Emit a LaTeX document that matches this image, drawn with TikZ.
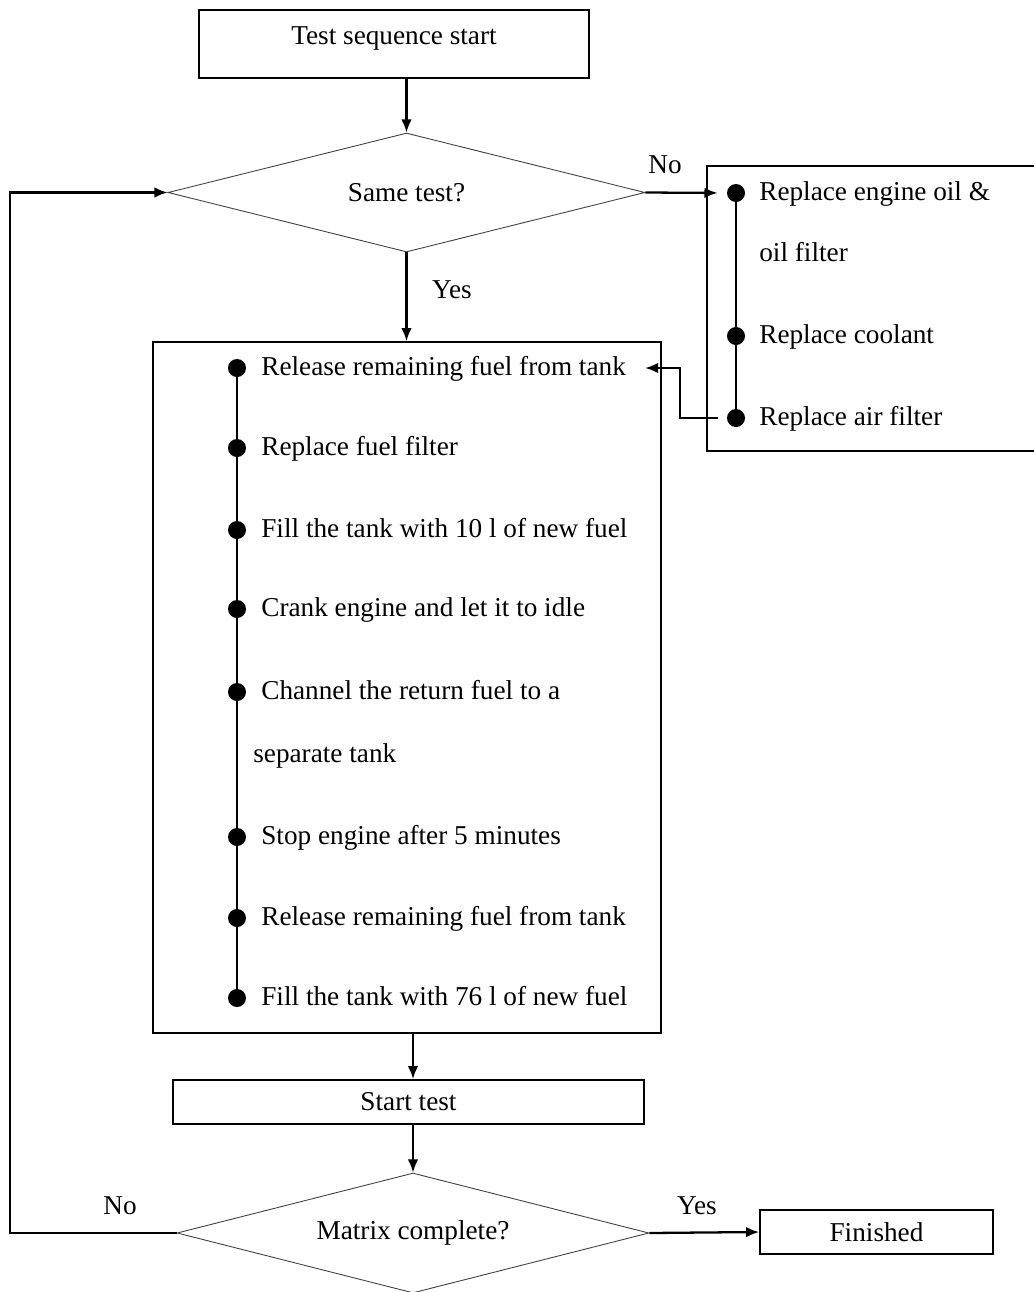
\documentclass[tikz,border=0pt]{standalone}
\usepackage{fontspec}
\setmainfont{Liberation Serif}
\usetikzlibrary{shapes.geometric,arrows.meta,calc}
\begin{document}
\begin{tikzpicture}[x=0.02cm,y=-0.02cm,
  every node/.style={font=\fontsize{15.5pt}{18pt}\selectfont},
  box/.style={draw, line width=0.9pt, inner sep=0pt},
  dec/.style={draw=black!75, line width=0.5pt, shape=diamond, shape aspect=4, inner sep=0pt},
  arr/.style={-{Latex[length=7.5pt,width=6pt]}, line width=1.3pt},
  dot/.style={circle, fill, inner sep=0pt, minimum size=0.36cm},
  item/.style={anchor=west, inner sep=0pt, text height=0.7em, text depth=0.2em},
  lbl/.style={inner sep=0pt},
  vline/.style={line width=0.9pt}]
\useasboundingbox (0,0) rectangle (1034,1292);
\clip (0,0) rectangle (1034,1292);

% top start box
\node[box, minimum width=7.8cm, minimum height=1.36cm, text height=12pt, text depth=12pt] (top) at (394,44) {Test sequence start};

% first decision
\node[dec, minimum width=9.54cm, minimum height=2.38cm] (d1) at (406.5,192.5) {Same test?};

% right maintenance box
\node[box, minimum width=6.76cm, minimum height=5.7cm] (rbox) at (876,308.5) {};
\node[dot] (r1) at (736,193) {};
\node[dot] (r2) at (736,336) {};
\node[dot] (r3) at (736,418) {};
\draw[vline] (r1.center) -- (r3.center);
\node[item] (rt1) at (759,196) {Replace engine oil \&};
\node[item] (rt1b) at (759,257) {oil filter};
\node[item] (rt2) at (759,339) {Replace coolant};
\node[item] (rt3) at (759,421) {Replace air filter};

% main procedure box
\node[box, minimum width=10.16cm, minimum height=13.82cm] (main) at (407,687.5) {};
\node[dot] (m1) at (237,368) {};
\node[dot] (m2) at (237,448) {};
\node[dot] (m3) at (237,530) {};
\node[dot] (m4) at (237,609) {};
\node[dot] (m5) at (237,692) {};
\node[dot] (m6) at (237,837) {};
\node[dot] (m7) at (237,918) {};
\node[dot] (m8) at (237,998) {};
\draw[vline] (m1.center) -- (m8.center);
\node[item] (mt1) at (261,371) {Release remaining fuel from tank};
\node[item] (mt2) at (261,451) {Replace fuel filter};
\node[item] (mt3) at (261,533) {Fill the tank with 10 l of new fuel};
\node[item] (mt4) at (261,612) {Crank engine and let it to idle};
\node[item] (mt5) at (261,695) {Channel the return fuel to a};
\node[item] (mt5b) at (253,758) {separate tank};
\node[item] (mt6) at (261,840) {Stop engine after 5 minutes};
\node[item] (mt7) at (261,921) {Release remaining fuel from tank};
\node[item] (mt8) at (261,1001) {Fill the tank with 76 l of new fuel};

% lower nodes
\node[box, minimum width=9.42cm, minimum height=0.88cm] (start) at (408.5,1102) {Start test};
\node[dec, minimum width=9.44cm, minimum height=2.4cm] (d2) at (413,1233) {Matrix complete?};
\node[box, minimum width=4.66cm, minimum height=0.88cm] (fin) at (876.5,1232) {Finished};

% labels
\node[lbl] (lno1) at (665,165) {No};
\node[lbl] (lyes1) at (452,290) {Yes};
\node[lbl] (lno2) at (120,1206) {No};
\node[lbl] (lyes2) at (697,1206) {Yes};

% connectors
\draw[arr] (d1.north |- top.south) -- (d1.north);
\draw[arr, shorten >=0.18cm] (d1.east) -- (r1.west);
\draw[arr] (d1.south) -- (d1.south |- main.north);
\coordinate (j1) at (680,418);
\coordinate (j2) at (680,368);
\coordinate (j3) at (645,368);
\draw[arr, shorten <=0.18cm] (r3.west) -- (j1) -- (j2) -- (j3);
\draw[arr] (main.south -| d2.north) -- (start.north -| d2.north);
\draw[arr] (start.south -| d2.north) -- (d2.north);
\draw[arr] (d2.east) -- (fin.west);
\coordinate (lb) at (10,1233);
\coordinate (lt) at (10,192.5);
\draw[arr] (d2.west) -- (lb) -- (lt) -- (d1.west);
\end{tikzpicture}
\end{document}
